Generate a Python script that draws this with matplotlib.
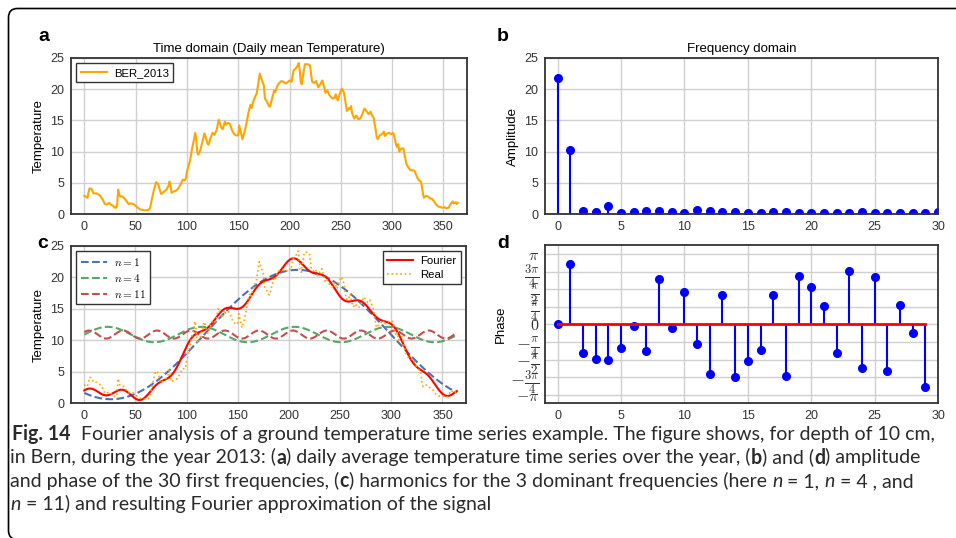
import numpy as np
import matplotlib
matplotlib.use('Agg')
import matplotlib.pyplot as plt
from matplotlib.patches import FancyBboxPatch
from matplotlib.transforms import IdentityTransform

# panel a / c: daily mean temperature
day = [0, 2, 3, 5, 7, 9, 12, 15, 18, 20, 22, 24, 26, 28, 30, 31, 32, 33, 34, 35,
       37, 39, 41, 43, 45, 48, 50, 52, 55, 58, 62, 64, 66, 68, 70, 72, 74, 75, 77, 80,
       82, 83, 84, 85, 87, 90, 92, 94, 96, 98, 99, 100, 102, 103, 105, 107, 108, 109, 110, 111,
       113, 115, 117, 118, 120, 121, 123, 125, 127, 129, 131, 132, 134, 135, 137, 138, 140, 142, 144, 146,
       148, 150, 151, 152, 153, 154, 156, 158, 160, 162, 163, 165, 167, 168, 170, 171, 172, 174, 175, 176,
       178, 180, 181, 183, 185, 186, 188, 190, 192, 194, 196, 198, 200, 202, 204, 206, 208, 209, 210, 211,
       212, 213, 215, 218, 220, 221, 222, 224, 226, 228, 230, 232, 234, 235, 237, 238, 240, 242, 244, 245,
       247, 249, 251, 253, 254, 256, 258, 259, 260, 261, 263, 265, 267, 269, 271, 273, 275, 277, 279, 280,
       282, 284, 285, 286, 288, 290, 292, 293, 295, 297, 299, 301, 302, 304, 305, 306, 307, 309, 311, 312,
       314, 316, 318, 320, 322, 324, 326, 328, 329, 330, 331, 333, 335, 337, 339, 341, 343, 345, 347, 349,
       351, 353, 355, 357, 359, 360, 362, 363, 364]
temp = [2.9, 2.7, 2.6, 4.1, 4.0, 3.3, 3.3, 3.0, 2.3, 1.6, 1.5, 1.8, 1.5, 1.3, 1.0, 1.0, 1.5, 3.9, 3.2, 2.8,
        2.8, 2.5, 2.1, 1.6, 1.7, 1.6, 1.3, 1.0, 0.7, 0.6, 0.6, 0.9, 2.5, 4.0, 5.1, 4.8, 3.6, 3.2, 3.5, 3.9,
        4.5, 5.2, 4.6, 3.4, 3.6, 3.8, 4.2, 4.8, 5.5, 5.4, 5.7, 6.8, 8.0, 8.5, 10.5, 12.0, 13.0, 12.2, 10.0, 9.5,
        10.2, 11.5, 12.9, 12.5, 11.3, 11.1, 12.2, 13.0, 12.7, 13.5, 15.1, 14.6, 13.7, 13.6, 14.8, 14.3, 14.6, 14.4, 13.4, 12.8,
        12.6, 12.6, 14.2, 13.5, 12.8, 12.0, 13.0, 14.5, 16.3, 17.5, 17.0, 18.2, 19.0, 19.3, 21.5, 22.5, 22.0, 21.0, 20.6, 18.5,
        18.0, 17.3, 17.2, 18.5, 19.8, 19.5, 20.5, 21.0, 21.3, 21.2, 20.9, 21.1, 21.4, 21.2, 23.0, 23.3, 23.8, 24.2, 23.0, 21.0,
        20.8, 22.0, 24.0, 24.0, 23.8, 22.5, 21.2, 21.0, 21.3, 20.3, 20.8, 21.4, 20.2, 19.4, 19.8, 19.3, 18.8, 18.5, 18.6, 19.2,
        18.2, 19.3, 20.1, 19.5, 18.5, 16.5, 17.0, 16.8, 17.3, 16.2, 15.3, 15.8, 15.2, 15.3, 16.0, 16.9, 16.5, 16.0, 16.4, 15.9,
        15.4, 13.5, 12.3, 12.0, 12.6, 12.8, 13.2, 12.5, 12.9, 13.0, 12.8, 13.0, 12.5, 11.0, 10.7, 11.2, 10.0, 10.5, 10.5, 9.6,
        8.0, 7.4, 7.0, 7.0, 6.9, 6.0, 5.4, 5.2, 4.5, 3.3, 2.6, 2.9, 2.8, 2.5, 2.4, 2.0, 1.5, 1.2, 1.1, 1.0,
        1.1, 0.9, 1.0, 1.6, 2.0, 1.7, 1.9, 1.6, 1.8]

# panel b: amplitude of the first frequencies
amp = [21.8, 10.3, 0.43, 0.27, 1.23, 0.16, 0.37, 0.53, 0.48, 0.37, 0.16,
       0.64, 0.43, 0.37, 0.27, 0.16, 0.16, 0.27, 0.27, 0.21, 0.10,
       0.21, 0.21, 0.21, 0.27, 0.10, 0.16, 0.16, 0.16, 0.21, 0.27]

# panel d: phase, in units of pi
phase_pi = [0.0, 0.858, -0.403, -0.488, -0.502, -0.327, -0.024, -0.374, 0.645, -0.047,
            0.464, -0.284, -0.697, 0.417, -0.744, -0.517, -0.360, 0.417, -0.735, 0.692,
            0.536, 0.261, -0.398, 0.763, -0.611, 0.678, -0.664, 0.270, -0.128, -0.891]
phase_labels = [r'$-\pi$', r'$-\frac{3\pi}{4}$', r'$-\frac{\pi}{2}$', r'$-\frac{\pi}{4}$',
                r'$0$', r'$\frac{\pi}{4}$', r'$\frac{\pi}{2}$', r'$\frac{3\pi}{4}$', r'$\pi$']

harmonics = [1, 4, 11]
harm_colors = ['#4C72B0', '#55A868', '#C44E52']

plt.rcParams['font.family'] = ['Liberation Sans', 'DejaVu Sans']
plt.rcParams['mathtext.fontset'] = 'cm'

W, H = 956, 538
fig = plt.figure(figsize=(W / 100, H / 100), dpi=100)


def box(left, top, right, bottom):
    return [left / W, 1 - bottom / H, (right - left) / W, (bottom - top) / H]


def style(ax):
    ax.grid(True, color='#d0d0d0', lw=1)
    ax.set_axisbelow(True)
    for s in ax.spines.values():
        s.set_color('#333333')
        s.set_linewidth(1.3)
    ax.tick_params(length=0, labelsize=9, colors='#333333', pad=5)


leg_kw = dict(fancybox=False, edgecolor='#333333', framealpha=1, fontsize=8.2,
              handlelength=2.3, borderaxespad=0.45, labelspacing=0.35, borderpad=0.4,
              handletextpad=0.6)

# a) time domain
ax_a = fig.add_axes(box(71, 58, 467, 214))
style(ax_a)
ax_a.plot(day, temp, color='orange', lw=1.5, label='BER_2013')
ax_a.set_xlim(-13, 373)
ax_a.set_ylim(0, 25)
ax_a.set_xticks(range(0, 351, 50))
ax_a.set_yticks(range(0, 26, 5))
ax_a.set_title('Time domain (Daily mean Temperature)', fontsize=9.5, pad=4)
ax_a.set_ylabel('Temperature', fontsize=9.5)
ax_a.legend(loc='upper left', **leg_kw)

# b) amplitude
ax_b = fig.add_axes(box(545, 58, 938, 214))
style(ax_b)
ml, sl, bl = ax_b.stem(range(len(amp)), amp, linefmt='b-', markerfmt='bo', basefmt='-')
plt.setp(sl, lw=1.5)
plt.setp(ml, ms=5.5)
bl.set_color('#8b1a1a')
bl.set_linewidth(1)
ax_b.set_xlim(-1, 30)
ax_b.set_ylim(0, 25)
ax_b.set_xticks(range(0, 31, 5))
ax_b.set_yticks(range(0, 26, 5))
ax_b.set_title('Frequency domain', fontsize=9.5, pad=4)
ax_b.set_ylabel('Amplitude', fontsize=9.5)

# c) harmonics and Fourier approximation
ax_c = fig.add_axes(box(71, 246, 466, 403))
style(ax_c)
t = np.arange(365)
mean = amp[0] / 2
total = np.full(len(t), mean)
hl = []
for n, c in zip(harmonics, harm_colors):
    comp = amp[n] * np.cos(2 * np.pi * n * t / 365 + phase_pi[n] * np.pi)
    total = total + comp
    h, = ax_c.plot(t, mean + comp, '--', color=c, lw=1.5, label='$n = %d$' % n)
    hl.append(h)
f1, = ax_c.plot(t, total, color='red', lw=1.5, label='Fourier')
f2, = ax_c.plot(day, temp, ':', color='orange', lw=1.2, label='Real')
ax_c.set_xlim(-13, 373)
ax_c.set_ylim(0, 25)
ax_c.set_xticks(range(0, 351, 50))
ax_c.set_yticks(range(0, 26, 5))
ax_c.set_ylabel('Temperature', fontsize=9.5)
leg1 = ax_c.legend(handles=hl, loc='upper left', **leg_kw)
ax_c.add_artist(leg1)
ax_c.legend(handles=[f1, f2], loc='upper right', **leg_kw)

# d) phase
ax_d = fig.add_axes(box(545, 245, 938, 403))
style(ax_d)
ph = np.array(phase_pi) * np.pi
ml, sl, bl = ax_d.stem(range(len(ph)), ph, linefmt='b-', markerfmt='bo', basefmt='r-')
plt.setp(sl, lw=1.5)
plt.setp(ml, ms=5.5)
bl.set_linewidth(2)
ax_d.set_xlim(-1, 30)
ax_d.set_ylim(-3.5, 3.54)
ax_d.set_xticks(range(0, 31, 5))
ax_d.set_yticks(np.arange(-4, 5) * np.pi / 4)
ax_d.set_yticklabels(phase_labels)
ax_d.tick_params(axis='y', pad=4)
for lbl in ax_d.get_yticklabels():
    lbl.set_fontsize(13 if 'frac' in lbl.get_text() else 11.5)
ax_d.set_ylabel('Phase', fontsize=9.5, labelpad=2)

# panel letters
for lab, x, y in [('a', 38, 37), ('b', 497, 37), ('c', 37, 244), ('d', 497, 244)]:
    fig.text(x / W, 1 - y / H, lab, fontsize=14, fontweight='bold', va='center', ha='left')

# frame around the figure (bottom and right edges fall outside the picture)
frame = FancyBboxPatch((8.5, -1.5), 1000, 531, boxstyle='round,pad=0,rounding_size=9',
                       transform=IdentityTransform(), fill=False, edgecolor='black', lw=1.2,
                       clip_on=False)
fig.add_artist(frame)

# caption
cap_font = 'Lato'
cap_color = '#2a2a2a'
lines = [
    [('Fig. 14', 'bold', 'normal'),
     ('  Fourier analysis of a ground temperature time series example. The figure shows, for depth of 10 cm,', 'normal', 'normal')],
    [('in Bern, during the year 2013: (', 'normal', 'normal'), ('a', 'bold', 'normal'),
     (') daily average temperature time series over the year, (', 'normal', 'normal'), ('b', 'bold', 'normal'),
     (') and (', 'normal', 'normal'), ('d', 'bold', 'normal'), (') amplitude', 'normal', 'normal')],
    [('and phase of the 30 first frequencies, (', 'normal', 'normal'), ('c', 'bold', 'normal'),
     (') harmonics for the 3 dominant frequencies (here ', 'normal', 'normal'), ('n', 'normal', 'italic'),
     (' = 1, ', 'normal', 'normal'), ('n', 'normal', 'italic'), (' = 4 , and', 'normal', 'normal')],
    [('n', 'normal', 'italic'), (' = 11) and resulting Fourier approximation of the signal', 'normal', 'normal')],
]
baselines = [440, 463.5, 487, 510]

renderer = fig.canvas.get_renderer()


def run_width(s, size, weight, style_):
    kw = dict(fontsize=size, fontweight=weight, fontstyle=style_, family=cap_font)
    t1 = fig.text(0, 0, s + '|', **kw)
    t2 = fig.text(0, 0, '|', **kw)
    w = t1.get_window_extent(renderer).width - t2.get_window_extent(renderer).width
    t1.remove()
    t2.remove()
    return w


# fit the caption size to the width of the first line
w10 = sum(run_width(s, 10, wt, st) for s, wt, st in lines[0])
cap_size = 10 * (937 - 12.5) / w10

for runs, yb in zip(lines, baselines):
    x = 12.5 if runs is lines[0] else 10.5
    for s, wt, st in runs:
        fig.text(x, H - yb, s, transform=IdentityTransform(), fontsize=cap_size, fontweight=wt,
                 fontstyle=st, family=cap_font, color=cap_color, va='baseline', ha='left')
        x += run_width(s, cap_size, wt, st)

fig.savefig('out.png', dpi=100)
